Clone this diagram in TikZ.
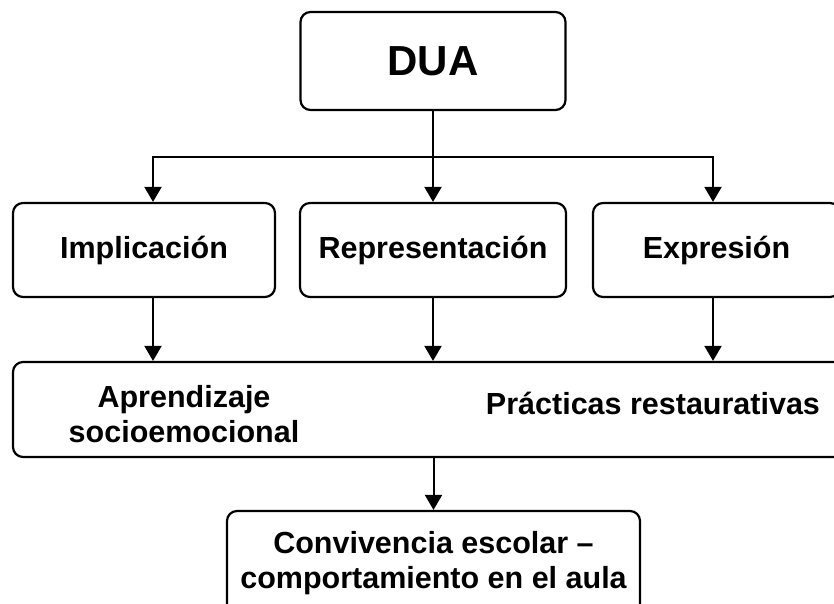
\documentclass[tikz,border=0pt]{standalone}
\usepackage{fontspec}
\setmainfont{Liberation Sans}
\usetikzlibrary{arrows.meta}

\begin{document}
\begin{tikzpicture}[x=1pt,y=-1pt,
	box/.style={draw,line width=2.2pt,rounded corners=10pt,inner sep=0pt,align=center,font=\fontsize{30.5}{35}\selectfont\bfseries},
	lbl/.style={align=center,inner sep=0pt,font=\fontsize{30.5}{35}\selectfont\bfseries},
	arr/.style={line width=2pt,-{Triangle[width=17pt,length=15pt]}}]
		\useasboundingbox (0,0) rectangle (834,603);
		\clip (0,0) rectangle (834,603);
		%DUA
		\node [box,minimum width=265pt,minimum height=98pt,font=\fontsize{42}{42}\selectfont\bfseries] (dua) at (433,61) {DUA};
		%Principios
		\node [box,minimum width=262pt,minimum height=94pt] (impl) at (144,250) {Implicación};
		\node [box,minimum width=266pt,minimum height=94pt] (repr) at (433,250) {Representación};
		\node [box,minimum width=247pt,minimum height=94pt] (expr) at (716.5,250) {Expresión};
		% Aprendizaje / Practicas
		\node [box,minimum width=832pt,minimum height=95pt] (base) at (429,409.5) {};
		\node [lbl] (ase) at (184,414) {Aprendizaje\\socioemocional};
		\node [lbl] (prac) at (653,403) {Prácticas restaurativas};
		% Convivencia
		\node [box,minimum width=413pt,minimum height=104pt] (conv) at (433.5,563) {Convivencia escolar –\\comportamiento en el aula};
		% Pfeile
		\coordinate (bl) at (153,157);
		\coordinate (br) at (713,157);
		\draw [arr] (dua.south) |- (bl) -- (bl |- impl.north);
		\draw [arr] (dua.south) |- (br) -- (br |- expr.north);
		\draw [arr] (dua.south) -- (repr.north);
		\draw [arr] (bl |- impl.south) -- (bl |- base.north);
		\draw [arr] (repr.south) -- (repr.south |- base.north);
		\draw [arr] (br |- expr.south) -- (br |- base.north);
		\draw [arr] (base.south -| conv.north) -- (conv.north);
\end{tikzpicture}
\end{document}
